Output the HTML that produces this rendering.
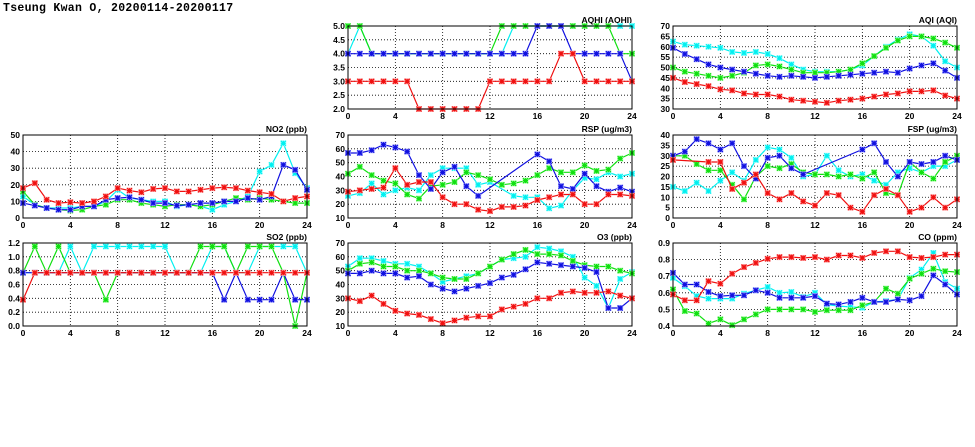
<!DOCTYPE html>
<html><head><meta charset="utf-8"><style>
html,body{margin:0;padding:0;background:#fff;}
svg{display:block;}
text{font-family:"Liberation Sans",sans-serif;font-weight:bold;font-size:8.5px;fill:#000;}
</style></head><body>
<svg id="s" width="975" height="447" xmlns="http://www.w3.org/2000/svg">
<text x="3" y="11" style="font-family:'Liberation Mono',monospace;font-size:11.5px;letter-spacing:0.3px;">Tseung Kwan O, 20200114-20200117</text>
</svg>
<script>
var N=null;
var P=[
{t:"AQHI (AQHI)",x:348,y:26,min:2,max:5,step:0.5,dec:1,s:[
[4,5,4,4,4,4,4,4,4,4,4,4,4,4,5,5,5,5,5,5,5,5,5,5,5],
[5,5,4,4,4,4,4,4,4,4,4,4,4,5,5,5,5,5,5,5,5,5,5,4,4],
[4,4,4,4,4,4,4,4,4,4,4,4,4,4,4,4,5,5,5,4,4,4,4,4,3],
[3,3,3,3,3,3,2,2,2,2,2,2,3,3,3,3,3,3,4,4,3,3,3,3,3]]},
{t:"AQI (AQI)",x:673,y:26,min:30,max:70,step:5,dec:0,s:[
[62.5,61,60.5,60,59.5,57.5,57,57.5,56.5,54.5,51.5,49,48,48,48,49,51,55.5,60,63.5,66,65,60.5,53,50],
[50,48,47,46,45,46,47.5,51,51.5,50.5,49,47.5,47.5,47.5,48,49,52,55.5,59.5,63,65,65,64,62,59.5],
[59.5,56.5,54,51.5,50,49,48,47,46,45.5,46,45.5,45,45.5,46,46.5,47,47.5,48,47.5,49.5,51,52,48.5,45],
[45,43,42,41,39.5,39,37.5,37,37,36,34.5,34,33.5,33,34,34.5,35,36,37,37.5,38.5,38.5,39,36.5,35]]},
{t:"NO2 (ppb)",x:23,y:135,min:0,max:50,step:10,dec:0,s:[
[13,8,6,6,6,7,7,10,17,12,11,10,10,7,8,7,5,8,10,13,28,32,45,27,18],
[16,8,6,5,4.5,5,7,8,11,11,9,8,7,8,8,7,8,10,12,11,12,11,10,9,9],
[9,7.5,6,5,5,7,7,11,12,12.5,11,9,9,7.5,8,9,9,10,10,12,11,13,32,29,17],
[18,21,11,9,9.5,9,10,13,18,16.5,15.5,17.5,18,16,16,17,18,18.5,18,16.5,15.5,14.5,10,12,13]]},
{t:"RSP (ug/m3)",x:348,y:135,min:10,max:70,step:10,dec:0,s:[
[26,28,35,27,30,32,30,41,46,46,46,34,36,N,26,25,25,17,19,30,39,38,43,40,42],
[42,47,41,37,35,27,24,33,34,36,43,41,38,34,35,37,41,46,43,43,48,44,45,53,57],
[57,57,59,63,61,58,41,31,43,47,33,26,N,N,N,N,56,51,33,31,42,33,29,32,29],
[29,30,31,32,46,34,36,36,25,20,20,16,15,18,18,19,23,25,27,27,20,20,27,27,26]]},
{t:"FSP (ug/m3)",x:673,y:135,min:0,max:40,step:5,dec:0,s:[
[15,13,17,13,18,22,18,28,34,33,29,20,21,30,23,20,21,18,16,22,24,22,25,25,28],
[30,30,26,23,23,16,9,20,25,24,26,22,21,21,20,21,19,22,12,11,27,22,19,27,30],
[30,32,38,36,33,36,25,19,29,30,24,21,N,N,N,N,33,36,27,20,27,26,27,30,28],
[28,N,N,27,27,14,17,21,12,9,12,8,6,12,11,5,3,11,14,11,3,5,10,5,9]]},
{t:"SO2 (ppb)",x:23,y:243,min:0,max:1.2,step:0.2,dec:1,s:[
[.77,.77,.77,.77,1.15,.77,1.15,1.15,1.15,1.15,1.15,1.15,1.15,.77,.77,.77,1.15,1.15,.77,.77,1.15,1.15,1.15,1.15,.77],
[.77,1.15,.77,1.15,.77,.77,.77,.38,.77,.77,.77,.77,.77,.77,.77,1.15,1.15,1.15,.77,1.15,1.15,1.15,.77,0,.77],
[.77,.77,.77,.77,.77,.77,.77,.77,.77,.77,.77,.77,.77,.77,.77,.77,.77,.38,.77,.38,.38,.38,.77,.38,.38],
[.38,.77,.77,.77,.77,.77,.77,.77,.77,.77,.77,.77,.77,.77,.77,.77,.77,.77,.77,.77,.77,.77,.77,.77,.77]]},
{t:"O3 (ppb)",x:348,y:243,min:10,max:70,step:10,dec:0,s:[
[53,59,59,57,55,55,53,48,42,44,46,48,53,58,59,60,67,66,64,60,45,39,23,44,49],
[50,55,56,53,53,50,50,48,45,44,44,48,53,58,62,65,62,62,61,57,54,53,53,50,48],
[48,48,50,48,48,45,46,40,37,35,37,39,41,45,47,51,56,55,54,53,52,49,23,23,30],
[30,28,32,26,21,19,18,15,12,14,16,17,17,22,24,26,30,30,34,35,34,34,35,32,30]]},
{t:"CO (ppm)",x:673,y:243,min:0.4,max:0.9,step:0.1,dec:1,s:[
[.69,.64,.58,.565,.565,.565,.595,.615,.635,.6,.605,.575,.6,.53,.52,.515,.51,.545,.55,.56,.69,.74,.84,.665,.625],
[.62,.49,.475,.415,.44,.405,.44,.47,.5,.5,.5,.5,.485,.495,.495,.495,.525,.545,.625,.595,.685,.715,.745,.73,.725],
[.72,.65,.65,.605,.58,.585,.585,.615,.6,.57,.57,.57,.58,.535,.53,.545,.57,.545,.545,.56,.555,.58,.705,.65,.59],
[.59,.555,.555,.67,.655,.715,.755,.78,.805,.815,.815,.81,.815,.8,.825,.825,.81,.84,.85,.85,.815,.81,.815,.83,.83]]}
];
var C=["#00f0f0","#10e010","#1010e0","#f01010"],L=["#b0ffff","#b0ffb0","#b0b0ff","#ffb0b0"];
var W=284,H=83,o='';
P.forEach(function(p){
 var X=function(i){return p.x+i*W/24},Y=function(v){return p.y+H-(v-p.min)/(p.max-p.min)*H};
 for(var v=p.min;v<=p.max+1e-9;v+=p.step){var y=Y(v);
  if(v>p.min+1e-9&&v<p.max-1e-9)o+='<line x1="'+p.x+'" x2="'+(p.x+W)+'" y1="'+y+'" y2="'+y+'" stroke="#000" stroke-width="0.8" stroke-dasharray="1,2"/>';
  o+='<text x="'+(p.x-3)+'" y="'+(y+3)+'" text-anchor="end">'+v.toFixed(p.dec)+'</text>';}
 for(var i=0;i<=24;i+=4){var x=X(i);
  if(i>0&&i<24)o+='<line x1="'+x+'" x2="'+x+'" y1="'+p.y+'" y2="'+(p.y+H)+'" stroke="#000" stroke-width="0.8" stroke-dasharray="1,2"/>';
  o+='<text x="'+x+'" y="'+(p.y+H+10)+'" text-anchor="middle">'+i+'</text>';}
 o+='<text x="'+(p.x+W)+'" y="'+(p.y-3)+'" text-anchor="end">'+p.t+'</text>';
 p.s.forEach(function(s,k){var pts=[];
  s.forEach(function(v,i){if(v!==null)pts.push([X(i),Y(v)]);});
  o+='<polyline fill="none" stroke="'+C[k]+'" stroke-width="1.2" points="'+pts.map(function(q){return q[0].toFixed(1)+','+q[1].toFixed(1)}).join(' ')+'"/>';
  pts.forEach(function(q){var a=q[0],b=q[1],r=2.5;
   o+='<rect x="'+(a-3)+'" y="'+(b-3)+'" width="6" height="6" fill="'+L[k]+'"/>';
   o+='<path d="M'+(a-r)+' '+(b-r)+'L'+(a+r)+' '+(b+r)+'M'+(a-r)+' '+(b+r)+'L'+(a+r)+' '+(b-r)+'M'+a+' '+(b-r)+'L'+a+' '+(b+r)+'M'+(a-r)+' '+b+'L'+(a+r)+' '+b+'" stroke="'+C[k]+'" stroke-width="1.2"/>';});
 });
 o+='<rect x="'+p.x+'" y="'+p.y+'" width="'+W+'" height="'+H+'" fill="none" stroke="#000" stroke-width="1"/>';
});
document.getElementById('s').insertAdjacentHTML('beforeend',o);
</script>
</body></html>
